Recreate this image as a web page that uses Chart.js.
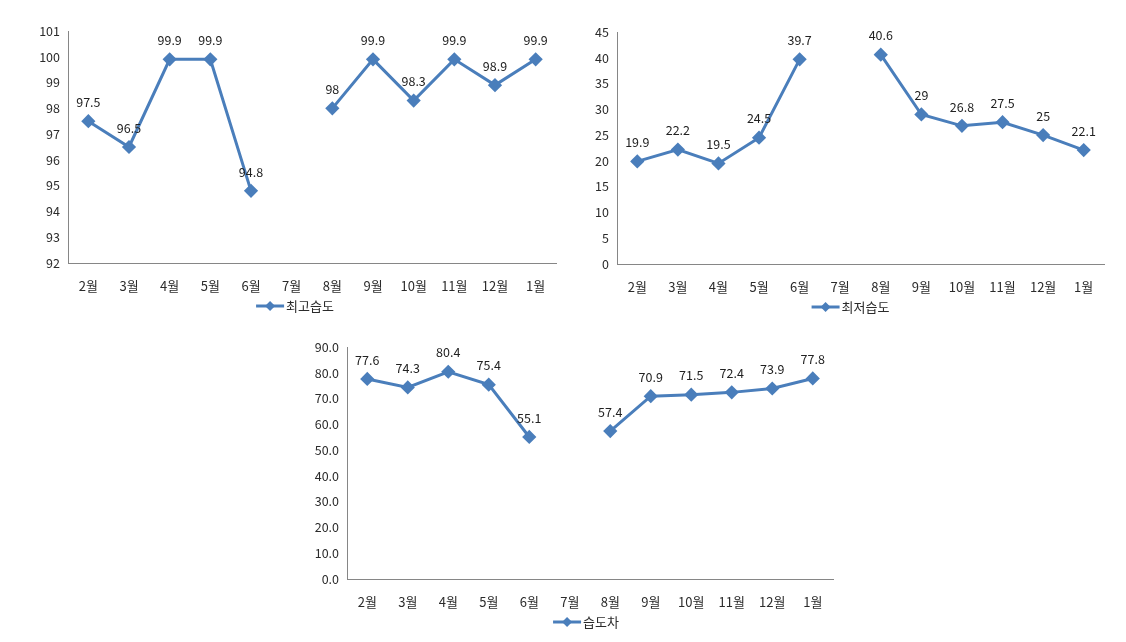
<!DOCTYPE html>
<html>
<head>
<meta charset="utf-8">
<script src="https://cdn.jsdelivr.net/npm/chart.js@4.4.0/dist/chart.umd.min.js"></script>
<style>
    body { margin: 0; background: #fff; width: 1126px; height: 642px; position: relative; overflow: hidden; }
    canvas { position: absolute; }
</style>
</head>
<body>
<canvas id="maxChart" width="580" height="325" style="left:0px;top:0px"></canvas>
<canvas id="minChart" width="566" height="325" style="left:560px;top:0px"></canvas>
<canvas id="diffChart" width="560" height="322" style="left:290px;top:320px"></canvas>
<script>
// months (7월 has no data)
const months = ['2월', '3월', '4월', '5월', '6월', '7월', '8월', '9월', '10월', '11월', '12월', '1월'];

const maxHumidity = [97.5, 96.5, 99.9, 99.9, 94.8, null, 98, 99.9, 98.3, 99.9, 98.9, 99.9];
const minHumidity = [19.9, 22.2, 19.5, 24.5, 39.7, null, 40.6, 29, 26.8, 27.5, 25, 22.1];
const diffHumidity = [77.6, 74.3, 80.4, 75.4, 55.1, null, 57.4, 70.9, 71.5, 72.4, 73.9, 77.8];

const lineColor = '#4A7EBB';
const textColor = '#2b2b2b';
const fontFamily = '"Noto Sans CJK KR", "Noto Sans", sans-serif';

// value labels above each point
const valueLabels = {
    id: 'valueLabels',
    afterDatasetsDraw(chart, args, opts) {
        const ctx = chart.ctx;
        const meta = chart.getDatasetMeta(0);
        const data = chart.data.datasets[0].data;
        ctx.save();
        ctx.font = '12.5px ' + fontFamily;
        ctx.fillStyle = '#222';
        ctx.textAlign = 'center';
        ctx.textBaseline = 'middle';
        meta.data.forEach((pt, i) => {
            if (data[i] === null) return;
            const txt = opts.decimals ? data[i].toFixed(opts.decimals) : String(data[i]);
            ctx.fillText(txt, pt.x, pt.y - opts.offset);
        });
        ctx.restore();
    }
};

// excel style legend: line with diamond, then text
const lineLegend = {
    id: 'lineLegend',
    afterDraw(chart, args, opts) {
        const ctx = chart.ctx;
        const label = chart.data.datasets[0].label;
        ctx.save();
        ctx.font = '13px ' + fontFamily;
        const tw = ctx.measureText(label).width;
        const lineW = 28;
        const total = lineW + 2 + tw;
        const cx = (chart.chartArea.left + chart.chartArea.right) / 2 + opts.shift;
        const y = chart.chartArea.bottom + 43;
        const x0 = cx - total / 2;
        ctx.strokeStyle = lineColor;
        ctx.lineWidth = 3;
        ctx.beginPath();
        ctx.moveTo(x0, y);
        ctx.lineTo(x0 + lineW, y);
        ctx.stroke();
        ctx.fillStyle = lineColor;
        ctx.beginPath();
        const mx = x0 + lineW / 2;
        ctx.moveTo(mx, y - 5);
        ctx.lineTo(mx + 5, y);
        ctx.lineTo(mx, y + 5);
        ctx.lineTo(mx - 5, y);
        ctx.closePath();
        ctx.fill();
        ctx.fillStyle = textColor;
        ctx.textBaseline = 'middle';
        ctx.fillText(label, x0 + lineW + 2, y);
        ctx.restore();
    }
};

function makeChart(canvasId, values, label, yMin, yMax, step, decimals, yWidth, xHeight, padTop, padRight, legendShift) {
    const ctx = document.getElementById(canvasId).getContext('2d');
    return new Chart(ctx, {
        type: 'line',
        data: {
            labels: months,
            datasets: [{
                label: label,
                data: values,
                borderColor: lineColor,
                backgroundColor: lineColor,
                borderWidth: 3,
                pointStyle: 'rectRot',
                pointRadius: 5,
                pointHoverRadius: 5,
                tension: 0,
                spanGaps: false
            }]
        },
        options: {
            responsive: false,
            animation: false,
            layout: { padding: { top: padTop, right: padRight, left: 0, bottom: 0 } },
            scales: {
                x: {
                    offset: true,
                    grid: { display: false, drawTicks: false },
                    border: { display: true, color: '#868686', width: 1 },
                    ticks: { color: textColor, font: { size: 13, family: fontFamily }, padding: 15, maxRotation: 0, autoSkip: false },
                    afterFit: scale => { scale.height = xHeight; }
                },
                y: {
                    min: yMin,
                    max: yMax,
                    grid: { display: false, drawTicks: false },
                    border: { display: true, color: '#868686', width: 1 },
                    ticks: {
                        stepSize: step,
                        color: textColor,
                        font: { size: 12.5, family: fontFamily },
                        padding: 8,
                        callback: v => decimals ? Number(v).toFixed(decimals) : v
                    },
                    afterFit: scale => { scale.width = yWidth; }
                }
            },
            plugins: {
                legend: { display: false },
                tooltip: { enabled: false },
                valueLabels: { offset: 19, decimals: decimals },
                lineLegend: { shift: legendShift }
            }
        },
        plugins: [valueLabels, lineLegend]
    });
}

makeChart('maxChart', maxHumidity, '최고습도', 92, 101, 1, 0, 68, 62, 31, 24, -17);
makeChart('minChart', minHumidity, '최저습도', 0, 45, 5, 0, 57, 61, 32, 22, -10);
makeChart('diffChart', diffHumidity, '습도차', 0, 90, 10, 1, 57, 63, 27, 17, -4);
</script>
</body>
</html>
